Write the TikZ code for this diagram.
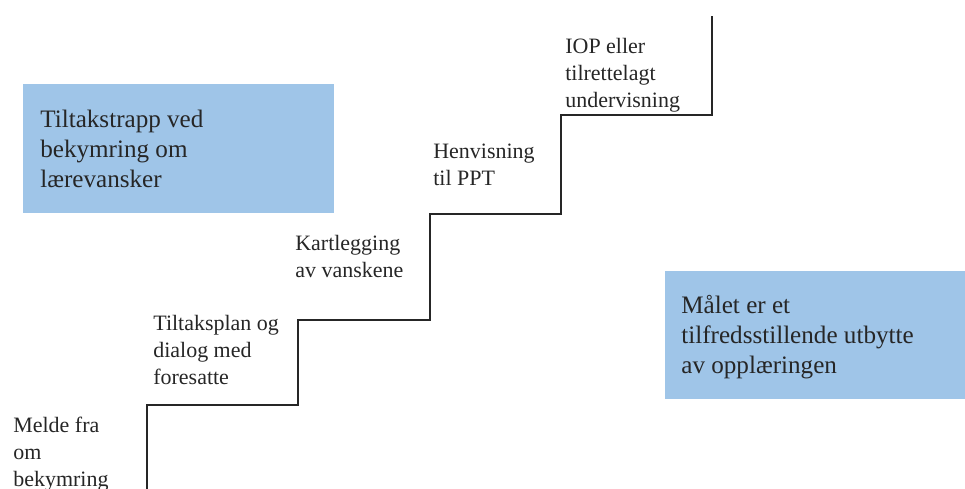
\documentclass[tikz,border=0pt]{standalone}
\usepackage{fontspec}
\setmainfont{Liberation Serif}
\definecolor{boxblue}{HTML}{9FC5E8}
\tikzset{
  steptext/.style={anchor=base west, inner sep=0pt, align=left,
    font=\fontsize{12.5}{15.6}\selectfont, text=black!85},
  boxtext/.style={anchor=base west, inner sep=0pt, align=left,
    font=\fontsize{14.3}{17.2}\selectfont, text=black!85}
}
\begin{document}
\begin{tikzpicture}[x=0.02cm, y=-0.02cm]
\useasboundingbox (0,0) rectangle (965,489);
\fill[boxblue] (23,84) rectangle (334,213);
\fill[boxblue] (665,271) rectangle (965,399);
\node[boxtext] (title) at (40,188) {Tiltakstrapp ved\\bekymring om\\lærevansker};
\node[boxtext] (goal) at (681,374) {Målet er et\\tilfredsstillende utbytte\\av opplæringen};
% trappen
\draw[line width=1pt, black!85] (147,489)--(147,405)--(298,405)--(298,320)--(430,320)
  --(430,214)--(561,214)--(561,115)--(712,115)--(712,16);
\node[steptext] (melde) at (13,487) {Melde fra\\om\\bekymring};
\node[steptext] (plan) at (153,385) {Tiltaksplan og\\dialog med\\foresatte};
\node[steptext] (kart) at (295,278) {Kartlegging\\av vanskene};
\node[steptext] (henv) at (433,186) {Henvisning\\til PPT};
\node[steptext] (iop) at (565,108) {IOP eller\\tilrettelagt\\undervisning};
\end{tikzpicture}
\end{document}
